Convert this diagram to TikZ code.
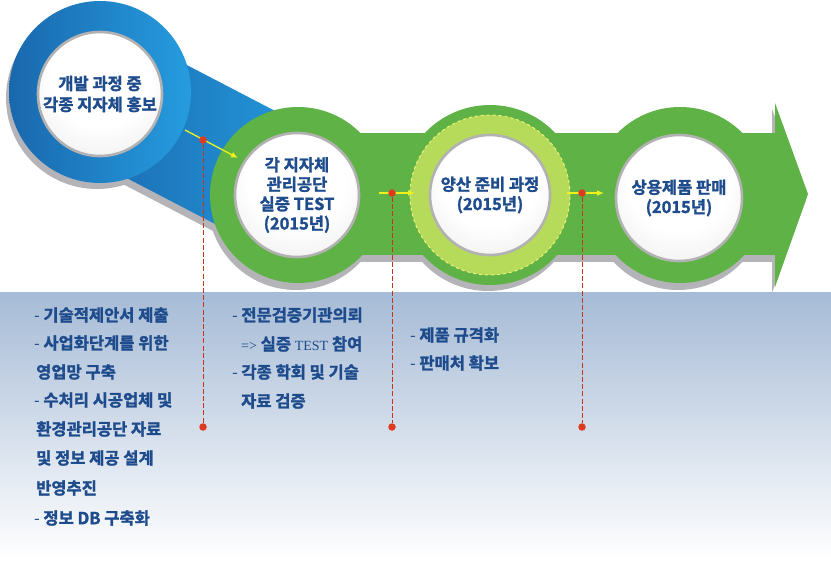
\documentclass[tikz,border=0pt]{standalone}
\usepackage{fontspec}
\setmainfont{Noto Sans CJK KR}[BoldFont={Noto Sans CJK KR Bold}, BoldFeatures={FakeBold=1.6}]
\newfontfamily\serifff{Liberation Serif}
\usetikzlibrary{calc,arrows.meta}
\definecolor{txt}{HTML}{1D4B8C}
\definecolor{gr}{HTML}{5FB245}
\definecolor{lg}{HTML}{B6DA5A}
\definecolor{ylb}{HTML}{EEF27A}
\definecolor{blA}{HTML}{1A68AE}
\definecolor{blB}{HTML}{259CDF}
\definecolor{pan}{HTML}{A6BBD6}
\definecolor{shd}{HTML}{B4B4B8}
\definecolor{rd}{HTML}{DD3A1F}
\definecolor{yl}{HTML}{EEF21C}
\pgfdeclareradialshading{pearl}{\pgfpoint{0bp}{10bp}}{color(0bp)=(white); color(20bp)=(white); color(36bp)=(black!7); color(46bp)=(black!20); color(52bp)=(black!32); color(60bp)=(black!40)}
\tikzset{
  disc/.style={circle, inner sep=0pt, minimum size=#1},
  pearlc/.style={circle, inner sep=0pt, minimum size=#1, shade, shading=pearl,
     draw=black!30, line width=2.6pt, align=center, text=txt,
     font=\fontsize{16.5}{19.5}\selectfont\bfseries},
  reddash/.style={draw=rd!90!black, line width=0.8pt, dash pattern=on 5pt off 2.2pt},
  rdot/.style={circle, fill=rd, inner sep=0pt, minimum size=7.5pt},
  yarr/.style={draw=yl, line width=1.3pt, -{Latex[length=7pt,width=6pt]}},
  bl/.style={anchor=west, inner sep=0pt, text=txt, font=\fontsize{16.5}{19}\selectfont\bfseries},
}
\newcommand\dsh{{\mdseries -}\hspace{3.5pt}}
\begin{document}
\begin{tikzpicture}[x=1pt,y=-1pt]
\useasboundingbox (0,0) rectangle (831,578);
% lower panel
\shade[top color=pan, bottom color=white, middle color=pan!50!white] (0,292) rectangle (831,560);
% centres
\coordinate (bc) at (100,92);
\coordinate (g1c) at (298,195);
\coordinate (g2c) at (490,195);
\coordinate (g3c) at (680,195);
% shadows
\fill[shd] ($(bc)!64pt!90:(g1c)+(-2,7)$) -- ($(g1c)!64pt!-90:(bc)+(-2,7)$) -- ($(g1c)!64pt!90:(bc)+(-2,7)$) -- ($(bc)!64pt!-90:(g1c)+(-2,7)$) -- cycle;
\node[disc=182pt, fill=shd] (bs) at ($(bc)+(-3,6)$) {};
\fill[shd] (298,141) rectangle (776,262);
\fill[shd] (772,109) -- (806,200) -- (772,293) -- cycle;
\node[disc=176pt, fill=shd] (g1s) at ($(g1c)+(-2,7)$) {};
\node[disc=178pt, fill=shd] (g2s) at ($(g2c)+(-2,7)$) {};
\node[disc=176pt, fill=shd] (g3s) at ($(g3c)+(-2,7)$) {};
% blue band
\shade[left color=blA, right color=blB] ($(bc)!64pt!90:(g1c)$) -- ($(g1c)!64pt!-90:(bc)$) -- ($(g1c)!64pt!90:(bc)$) -- ($(bc)!64pt!-90:(g1c)$) -- cycle;
% green band with arrow head
\fill[gr] (298,133) rectangle (778,255);
\fill[gr] (775,103) -- (808,194) -- (775,287) -- cycle;
% blue circle
\node[disc=182pt, left color=blA, right color=blB] (bo) at (bc) {};
\node[pearlc=124pt] (bi) at (100,94) {개발 과정 중\\[1.5pt]각종 지자체 홍보};
% green circles
\node[disc=176pt, fill=gr] (g1) at (g1c) {};
\node[pearlc=124pt] (g1i) at (297,195) {각 지자체\\관리공단\\실증 TEST\\(2015년)};
\node[disc=180pt, fill=gr] (g2) at (g2c) {};
\node[disc=160pt, fill=lg, draw=ylb, line width=1pt, dashed] (g2r) at (g2c) {};
\node[pearlc=120pt] (g2i) at (490,195) {양산 준비 과정\\(2015년)};
\node[disc=176pt, fill=gr] (g3) at (g3c) {};
\node[pearlc=126pt] (g3i) at (679,198) {상용제품 판매\\(2015년)};
% yellow arrows
\coordinate (a1s) at (185,130); \coordinate (a1e) at (238,158);
\coordinate (a2s) at (379,193); \coordinate (a2e) at (415,193);
\coordinate (a3s) at (567,193); \coordinate (a3e) at (604,193);
\draw[yarr] (a1s) -- (a1e);
\draw[yarr] (a2s) -- (a2e);
\draw[yarr] (a3s) -- (a3e);
% red dashed lines
\node[rdot] (d1t) at (203,140) {};
\node[rdot] (d1b) at (203,427) {};
\node[rdot] (d2t) at (392,193) {};
\node[rdot] (d2b) at (392,427) {};
\node[rdot] (d3t) at (582,193) {};
\node[rdot] (d3b) at (582,427) {};
\draw[reddash] (d1t) -- (d1b);
\draw[reddash] (d2t) -- (d2b);
\draw[reddash] (d3t) -- (d3b);
% column 1
\node[bl] (c1a) at (34,315) {\dsh 기술적제안서 제출};
\node[bl] (c1b) at (34,343) {\dsh 사업화단계를 위한};
\node[bl] (c1c) at (36,372) {영업망 구축};
\node[bl] (c1d) at (34,400) {\dsh 수처리 시공업체 및};
\node[bl] (c1e) at (36,429) {환경관리공단 자료};
\node[bl] (c1f) at (36,458) {및 정보 제공 설계};
\node[bl] (c1g) at (36,488) {반영추진};
\node[bl] (c1h) at (34,518) {\dsh 정보 DB 구축화};
% column 2
\node[bl] (c2a) at (232,315) {\dsh 전문검증기관의뢰};
\node[bl] (c2b) at (241,344) {{\serifff\mdseries\fontsize{14}{16}\selectfont =>} 실증 {\serifff\mdseries\fontsize{14}{16}\selectfont TEST} 참여};
\node[bl] (c2c) at (232,372) {\dsh 각종 학회 및 기술};
\node[bl] (c2d) at (241,401) {자료 검증};
% column 3
\node[bl] (c3a) at (410,335) {\dsh 제품 규격화};
\node[bl] (c3b) at (410,363) {\dsh 판매처 확보};
\end{tikzpicture}
\end{document}
